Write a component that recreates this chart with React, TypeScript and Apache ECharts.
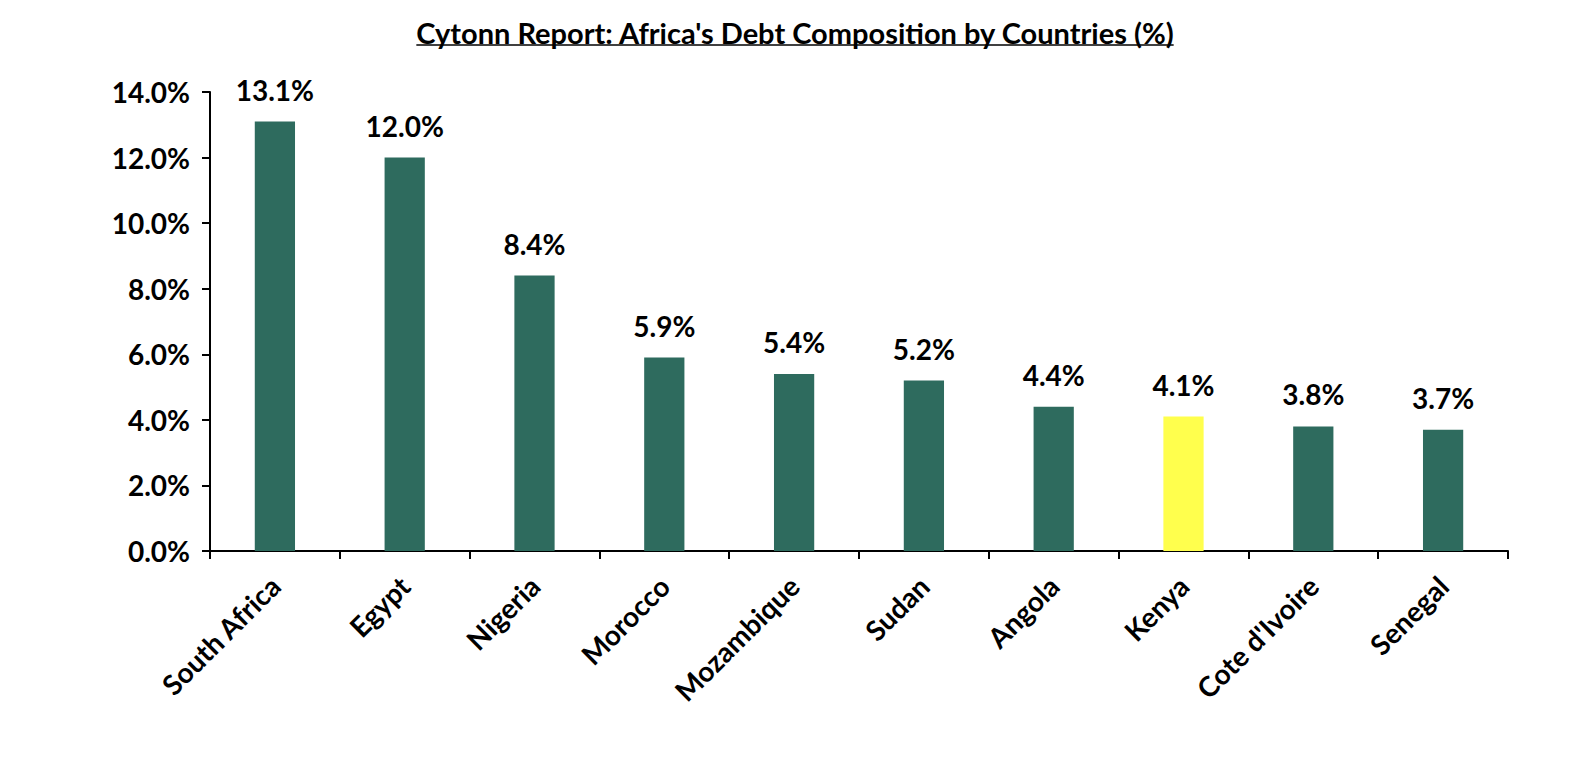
import React, { useEffect, useRef } from "react";
import * as echarts from "echarts";

const countries = [
  "South Africa",
  "Egypt",
  "Nigeria",
  "Morocco",
  "Mozambique",
  "Sudan",
  "Angola",
  "Kenya",
  "Cote d'Ivoire",
  "Senegal",
];
const shares = [13.1, 12.0, 8.4, 5.9, 5.4, 5.2, 4.4, 4.1, 3.8, 3.7];
const highlighted = "Kenya";

const titleText = "Cytonn Report: Africa's Debt Composition by Countries (%)";
const FONT = "Lato, 'Open Sans', sans-serif";

const App: React.FC = () => {
  const chartRef = useRef<HTMLDivElement>(null);

  useEffect(() => {
    document.body.style.margin = "0";
    const dom = chartRef.current;
    if (!dom) return;
    const chart = echarts.init(dom, null, { renderer: "svg" });

    const option: echarts.EChartsOption = {
      animation: false,
      textStyle: { fontFamily: FONT },
      title: {
        text: titleText,
        left: "center",
        top: 13,
        textStyle: { fontSize: 29, fontWeight: "bold", color: "#000", fontFamily: FONT },
      },
      grid: { left: 210, right: 82, top: 92, bottom: 215 },
      xAxis: {
        type: "category",
        data: countries,
        axisLine: { lineStyle: { color: "#000", width: 2 } },
        axisTick: { show: true, length: 8, lineStyle: { color: "#000", width: 2 } },
        axisLabel: {
          rotate: 45,
          interval: 0,
          margin: 30,
          fontSize: 28,
          fontWeight: "bold",
          color: "#000",
          fontFamily: FONT,
        },
      },
      yAxis: {
        type: "value",
        min: 0,
        max: 14,
        interval: 2,
        splitLine: { show: false },
        axisLine: { show: true, lineStyle: { color: "#000", width: 2 } },
        axisTick: { show: true, length: 8, lineStyle: { color: "#000", width: 2 } },
        axisLabel: {
          formatter: (v: number) => v.toFixed(1) + "%",
          margin: 20,
          fontSize: 28,
          fontWeight: "bold",
          color: "#000",
          fontFamily: FONT,
        },
      },
      series: [
        {
          type: "bar",
          barWidth: "31%",
          data: shares.map((v, i) => ({
            value: v,
            itemStyle: { color: countries[i] === highlighted ? "#FFFF4D" : "#2E6B5E" },
          })),
          label: {
            show: true,
            position: "top",
            distance: 18,
            formatter: (p: any) => Number(p.value).toFixed(1) + "%",
            fontSize: 28,
            fontWeight: "bold",
            color: "#000",
            fontFamily: FONT,
          },
        },
      ],
    };

    chart.setOption(option);

    // underline the title using the rendered text's box
    const texts = Array.from(dom.querySelectorAll("text"));
    const titleEl = texts.find((t) => t.textContent === titleText);
    if (titleEl) {
      const box = titleEl.getBoundingClientRect();
      const host = dom.getBoundingClientRect();
      const x1 = box.left - host.left;
      const x2 = box.right - host.left;
      chart.setOption({
        graphic: [
          {
            type: "line",
            shape: { x1, y1: 45, x2, y2: 45 },
            style: { stroke: "#000", lineWidth: 1.6 },
          },
        ],
      });
    }

    return () => {
      chart.dispose();
    };
  }, []);

  return <div ref={chartRef} style={{ width: "1590px", height: "766px" }} />;
};

export default App;
